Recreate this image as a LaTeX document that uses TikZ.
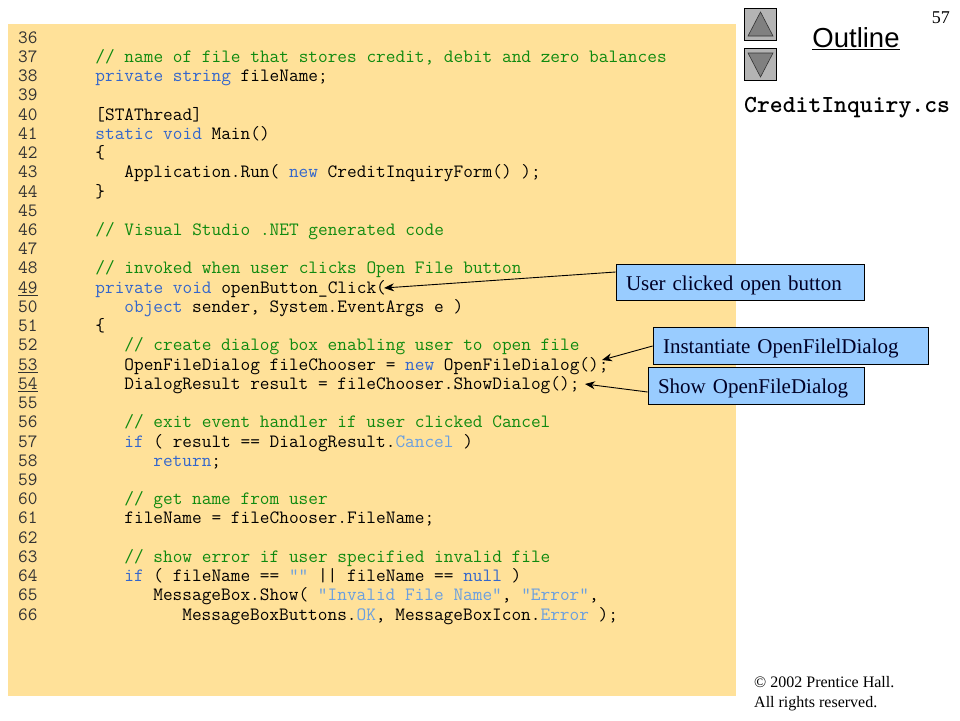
\documentclass[tikz,border=0pt]{standalone}
\usepackage{fontspec}
\setmainfont{Liberation Serif}
\newfontfamily\headfont{Liberation Sans}
\usetikzlibrary{arrows.meta}
\definecolor{panel}{HTML}{FFE199}
\definecolor{callout}{HTML}{99CCFF}
\definecolor{kw}{HTML}{3366CC}
\definecolor{cm}{HTML}{0F8A0F}
\definecolor{lit}{HTML}{6A9FE0}
\definecolor{numc}{HTML}{333333}
\definecolor{btn}{HTML}{B4B4B4}
\definecolor{tri}{HTML}{808080}
\newcommand{\K}[1]{\textcolor{kw}{#1}}
\newcommand{\Lt}[1]{\textcolor{lit}{#1}}
\newcommand{\Cm}[1]{\textcolor{cm}{#1}}
\newcommand{\codeat}[3]{\node[codetext] (c#1) at ({18+9.655*#2},{43.2+19.23*(#1-36)}) {#3};}
\tikzset{
  codetext/.style={anchor=base west,inner sep=0pt,font=\fontsize{18.8}{20}\ttfamily\frenchspacing},
  numtext/.style={codetext,text=numc},
  calloutbox/.style={draw=black,line width=0.8pt,fill=callout,inner ysep=0pt,inner xsep=10pt,minimum height=36.5pt,align=left,text height=17pt,text depth=1.5pt,font=\fontsize{21}{24}\selectfont,text=black!85!blue},
  pointer/.style={draw=black,line width=0.9pt,-{Stealth[length=10pt,width=8pt]}},
  navbtn/.style={draw=black,line width=0.7pt,fill=btn,minimum size=32.5pt,inner sep=0pt},
  navtri/.style={draw=black!80,line width=0.6pt,fill=tri},
  small/.style={anchor=base west,inner sep=0pt,font=\fontsize{16}{19}\selectfont}
}
\begin{document}
\begin{tikzpicture}[x=1pt,y=-1pt]
\useasboundingbox (0,0) rectangle (960,720);
\fill[white] (0,0) rectangle (960,720);
\fill[panel] (8,24) rectangle (736,696);
% line numbers
\foreach \n in {36,...,66}{
  \ifnum\n=49 \node[numtext] (n\n) at (18,{43.2+19.23*(\n-36)}) {\underline{\n}};
  \else\ifnum\n=53 \node[numtext] (n\n) at (18,{43.2+19.23*(\n-36)}) {\underline{\n}};
  \else\ifnum\n=54 \node[numtext] (n\n) at (18,{43.2+19.23*(\n-36)}) {\underline{\n}};
  \else \node[numtext] (n\n) at (18,{43.2+19.23*(\n-36)}) {\n};
  \fi\fi\fi
}
% code
\codeat{37}{8}{\Cm{// name of file that stores credit, debit and zero balances}}
\codeat{38}{8}{\K{private string} fileName;}
\codeat{40}{8}{[STAThread]}
\codeat{41}{8}{\K{static void} Main()}
\codeat{42}{8}{\{}
\codeat{43}{11}{Application.Run( \K{new} CreditInquiryForm() );}
\codeat{44}{8}{\}}
\codeat{46}{8}{\Cm{// Visual Studio .NET generated code}}
\codeat{48}{8}{\Cm{// invoked when user clicks Open File button}}
\codeat{49}{8}{\K{private void} openButton\_Click(}
\codeat{50}{11}{\K{object} sender, System.EventArgs e )}
\codeat{51}{8}{\{}
\codeat{52}{11}{\Cm{// create dialog box enabling user to open file}}
\codeat{53}{11}{OpenFileDialog fileChooser = \K{new} OpenFileDialog();}
\codeat{54}{11}{DialogResult result = fileChooser.ShowDialog();}
\codeat{56}{11}{\Cm{// exit event handler if user clicked Cancel}}
\codeat{57}{11}{\K{if} ( result == DialogResult.\Lt{Cancel} )}
\codeat{58}{14}{\K{return};}
\codeat{60}{11}{\Cm{// get name from user}}
\codeat{61}{11}{fileName = fileChooser.FileName;}
\codeat{63}{11}{\Cm{// show error if user specified invalid file}}
\codeat{64}{11}{\K{if} ( fileName == \Lt{""} || fileName == \K{null} )}
\codeat{65}{14}{MessageBox.Show( \Lt{"Invalid File Name"}, \Lt{"Error"},}
\codeat{66}{17}{MessageBoxButtons.\Lt{OK}, MessageBoxIcon.\Lt{Error} );}
% callouts
\node[calloutbox,text width=228pt] (bUser) at (740,282.5) {User clicked open button};
\node[calloutbox,text width=255pt] (bInst) at (790.5,346) {Instantiate OpenFilelDialog};
\node[calloutbox,text width=196pt] (bShow) at (756,386) {Show OpenFileDialog};
\coordinate (aUser) at (384,288);
\coordinate (aInst) at (602,360);
\coordinate (aShow) at (585,384);
\draw[pointer] ([yshift=10.5pt]bUser.west) -- (aUser);
\draw[pointer] (bInst.west) -- (aInst);
\draw[pointer] ([yshift=-6pt]bShow.west) -- (aShow);
% navigation
\node[navbtn] (up) at (760.5,24.5) {};
\node[navbtn] (down) at (760.5,64.5) {};
\draw[navtri] (760.5,12) -- (773,36) -- (748,36) -- cycle;
\draw[navtri] (760.5,77) -- (773,53) -- (748,53) -- cycle;
\node[anchor=base,inner sep=0pt,font=\fontsize{27.5}{32}\headfont] (outline) at (856,47.5) {\underline{Outline}};
\node[anchor=base west,inner sep=0pt,font=\fontsize{24.5}{26}\ttfamily\bfseries] (file) at (744,112) {CreditInquiry.cs};
\node[small,anchor=base east,font=\fontsize{18}{20}\selectfont] (page) at (950,23) {57};
\node[small] (copy) at (754,687) {\textcopyright\ 2002 Prentice Hall.};
\node[small] (rights) at (754,707) {All rights reserved.};
\end{tikzpicture}
\end{document}
